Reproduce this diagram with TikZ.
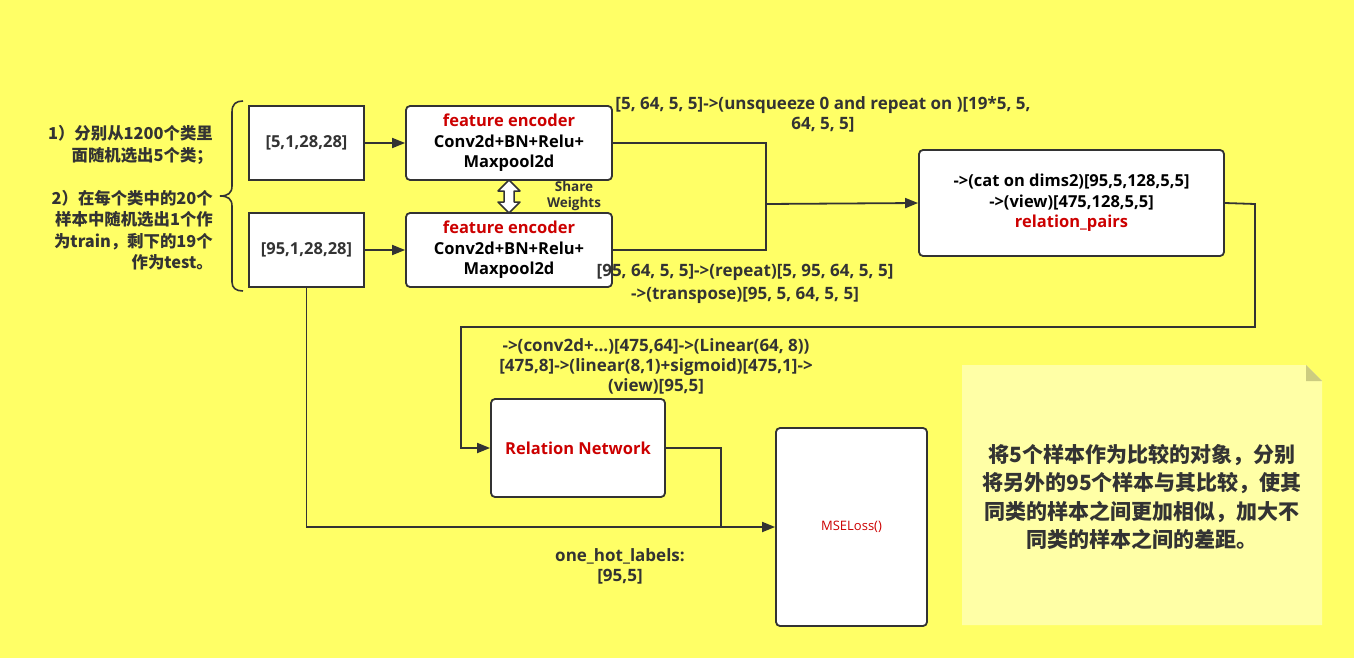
\documentclass[tikz,border=0pt]{standalone}
\usepackage{fontspec}
\setmainfont{Open Sans}
\newfontfamily\cjk{Noto Sans CJK SC}
\usetikzlibrary{arrows.meta}
\definecolor{bgyellow}{HTML}{FFFF66}
\definecolor{noteyellow}{HTML}{FFFFA6}
\definecolor{notefold}{HTML}{CCCC80}
\definecolor{ink}{HTML}{333333}
\definecolor{redtxt}{HTML}{CC0000}
\tikzset{
  conn/.style={draw=ink, line width=1.8pt},
  arr/.style={conn, -{Triangle[length=13pt,width=10pt]}},
  sqbox/.style={draw=ink, line width=1.8pt, fill=white, inner sep=0pt, align=center,
     font=\fontsize{16.5}{20.5}\selectfont\bfseries, text=ink},
  rbox/.style={sqbox, rounded corners=4pt, text=black},
  lbl/.style={align=center, text=ink, inner sep=0pt, font=\fontsize{17}{20}\selectfont\bfseries},
}
\begin{document}
\begin{tikzpicture}[x=1pt,y=-1pt]
\fill[bgyellow] (0,0) rectangle (1354,658);
\useasboundingbox (0,0) rectangle (1354,658);

% note
\fill[noteyellow] (962,365) -- (1306,365) -- (1322,381) -- (1322,625) -- (962,625) -- cycle;
\fill[notefold] (1306,365) -- (1306,381) -- (1322,381) -- cycle;
\node[align=center, text=ink, inner sep=0pt,
      font=\cjk\fontsize{21}{28.5}\selectfont\bfseries] (note) at (1142,497)
  {将5个样本作为比较的对象，分别\\将另外的95个样本与其比较，使其\\同类的样本之间更加相似，加大不\\同类的样本之间的差距。};

% brace
\draw[conn, line width=1.6pt] (243,101) .. controls (236,101) and (232,104) .. (232,112)
  -- (232,186) .. controls (232,193) and (228,196) .. (220,196)
  .. controls (228,196) and (232,199) .. (232,206)
  -- (232,282) .. controls (232,288) and (236,291) .. (243,291);

\node[anchor=east, align=right, text=ink, inner sep=0pt,
      font=\cjk\fontsize{16.4}{21.5}\selectfont\bfseries] (left) at (213,198)
  {1）分别从1200个类里\\面随机选出5个类；\\[21.5pt]2）在每个类中的20个\\样本中随机选出1个作\\为train，剩下的19个\\作为test。};

% boxes
\node[sqbox, minimum width=115pt, minimum height=74pt] (A) at (306.5,143) {[5,1,28,28]};
\node[sqbox, minimum width=115pt, minimum height=74pt] (B) at (306.5,250) {[95,1,28,28]};
\node[rbox, minimum width=206pt, minimum height=74pt] (E1) at (509,143)
  {\textcolor{redtxt}{feature encoder}\\Conv2d+BN+Relu+\\Maxpool2d};
\node[rbox, minimum width=206pt, minimum height=74pt] (E2) at (509,250)
  {\textcolor{redtxt}{feature encoder}\\Conv2d+BN+Relu+\\Maxpool2d};
\node[rbox, minimum width=305pt, minimum height=106pt] (R) at (1071.5,203)
  {->(cat on dims2)[95,5,128,5,5]\\->(view)[475,128,5,5]\\\textcolor{redtxt}{relation\_pairs}};
\node[rbox, minimum width=174pt, minimum height=98pt, text=redtxt] (RN) at (578,448) {Relation Network};
\node[rbox, minimum width=151pt, minimum height=198pt, text=redtxt,
      font=\fontsize{13}{16}\selectfont] (M) at (851.5,527) {MSELoss()};

% share weights double arrow
\filldraw[draw=ink, fill=white, line width=1.5pt, line join=round]
  (509,180) -- (520,191) -- (514,191) -- (514,202) -- (520,202) -- (509,213)
  -- (498,202) -- (504,202) -- (504,191) -- (498,191) -- cycle;
\node[lbl, font=\fontsize{13.5}{16}\selectfont\bfseries] (sw) at (574,196) {Share\\Weights};

% connectors
\coordinate (J) at (766,204);
\coordinate (c1) at (1255,204);
\coordinate (c2) at (1255,327);
\coordinate (c3) at (461,327);
\coordinate (m) at (721,527);
\draw[arr] (A) -- (E1);
\draw[arr] (B) -- (E2);
\draw[conn] (E1.east) -| (J);
\draw[conn] (E2.east) -| (J);
\draw[arr] (J) -- (R.west);
\draw[arr] (R.east) -- (c1) -- (c2) -- (c3) |- (RN.west);
\draw[conn] (RN.east) -| (m);
\draw[arr] (B.south) |- (M.west);

% labels
\node[lbl] (t1) at (823,114) {[5, 64, 5, 5]->(unsqueeze 0 and repeat on )[19*5, 5,\\64, 5, 5]};
\node[lbl, font=\fontsize{17}{23}\selectfont\bfseries] (t2) at (745,284) {[95, 64, 5, 5]->(repeat)[5, 95, 64, 5, 5]\\->(transpose)[95, 5, 64, 5, 5]};
\node[lbl] (t3) at (656,366) {->(conv2d+...)[475,64]->(Linear(64, 8))\\{}[475,8]->(linear(8,1)+sigmoid)[475,1]->\\(view)[95,5]};
\node[lbl] (t4) at (620,566) {one\_hot\_labels:\\{}[95,5]};
\end{tikzpicture}
\end{document}
